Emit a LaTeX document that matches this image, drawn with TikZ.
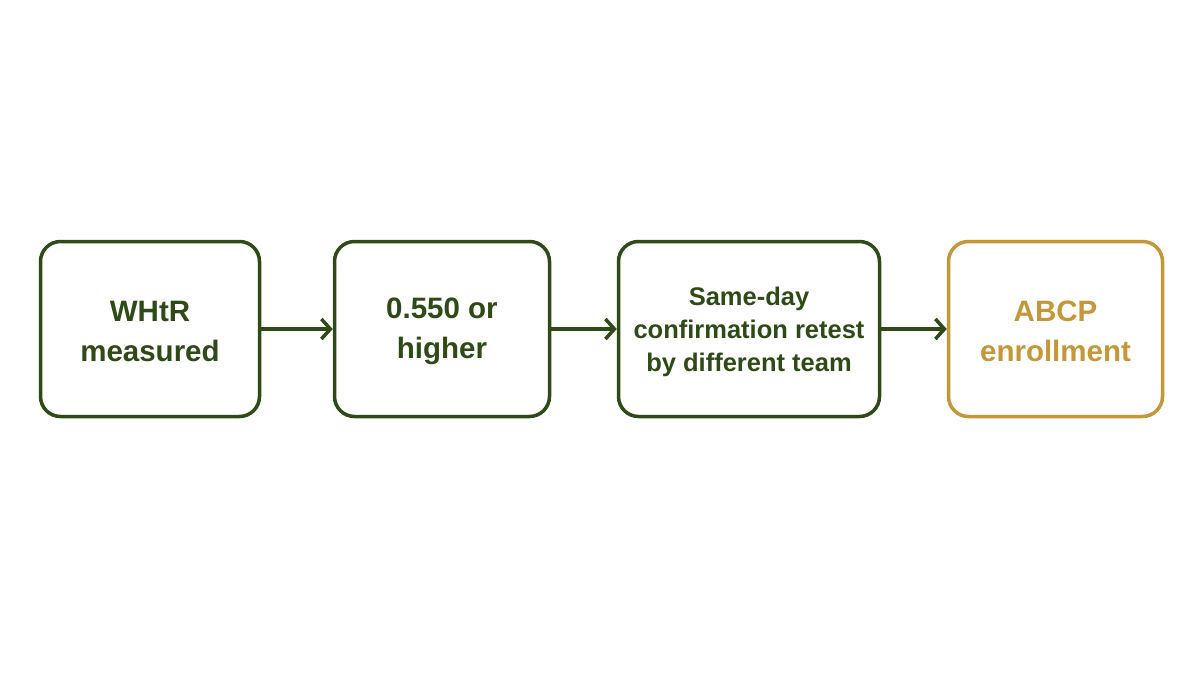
\documentclass[tikz,border=0pt]{standalone}
\usepackage{fontspec}
\setmainfont{Liberation Sans}
\usetikzlibrary{arrows.meta}
\definecolor{dgreen}{HTML}{2E4A16}
\definecolor{gold}{HTML}{C4973B}
\begin{document}
\begin{tikzpicture}[x=1pt,y=-1pt,
  stepbox/.style={draw=dgreen,line width=3.5pt,rounded corners=20pt,minimum height=175pt,inner sep=0pt},
  goldbox/.style={stepbox,draw=gold},
  bigtext/.style={text=dgreen,font=\bfseries\fontsize{29.5}{40}\selectfont,align=center,inner sep=0pt},
  smalltext/.style={bigtext,font=\bfseries\fontsize{25.5}{33}\selectfont},
  goldtext/.style={bigtext,text=gold},
  conn/.style={draw=dgreen,line width=3.5pt,-{Straight Barb[length=9pt,width=20pt,line width=3.5pt]}}]
\useasboundingbox (0,0) rectangle (1200,675);
\fill[white] (0,0) rectangle (1200,675);
\node[stepbox,minimum width=219pt] (a) at (150,329) {};
\node[stepbox,minimum width=215pt] (b) at (442,329) {};
\node[stepbox,minimum width=261pt] (c) at (749,329) {};
\node[goldbox,minimum width=214pt] (d) at (1055.5,329) {};
\node[bigtext] (at) at ([yshift=-2.5pt]a.center) {WHtR\\measured};
\node[bigtext] (bt) at ([yshift=-2.5pt]b.center) {0.550 or\\higher};
\node[smalltext] (ct) at ([yshift=-3pt]c.center) {Same-day\\confirmation retest\\by different team};
\node[goldtext] (dt) at ([yshift=-2.5pt]d.center) {ABCP\\enrollment};
\draw[conn] (a) -- (b);
\draw[conn] (b) -- (c);
\draw[conn] (c) -- (d);
\end{tikzpicture}
\end{document}
